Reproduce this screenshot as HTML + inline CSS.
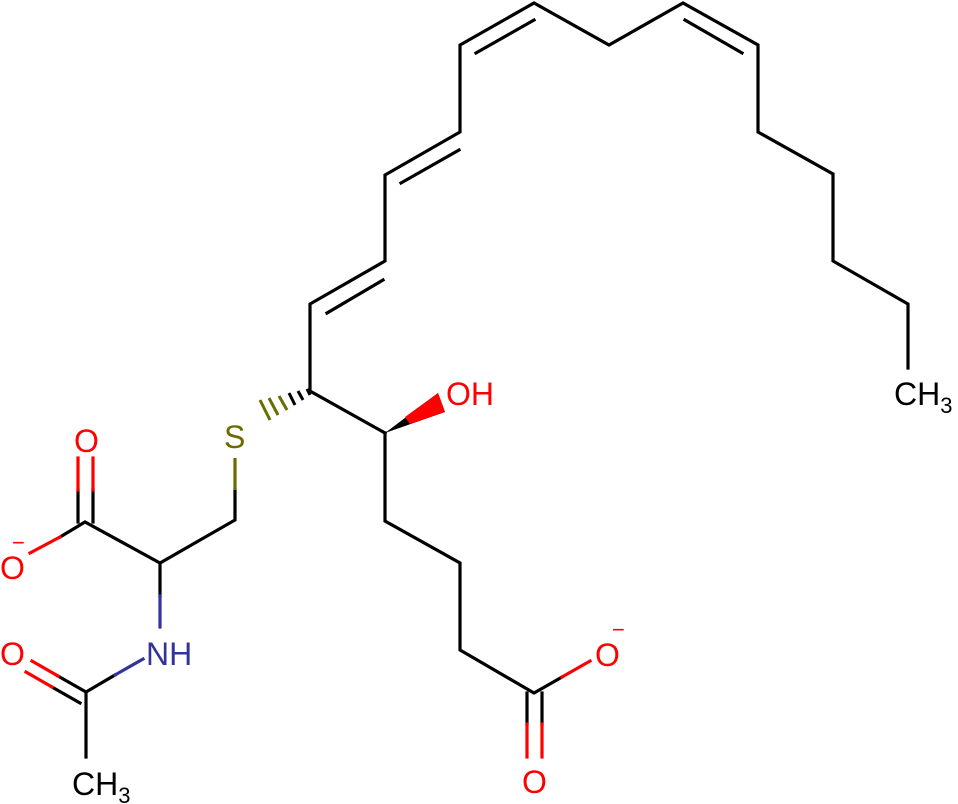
<!DOCTYPE html>
<html><head><style>body{margin:0;background:#fff}svg{display:block}text{font-family:"Liberation Sans",sans-serif;font-size:32px}</style></head><body>
<svg width="958" height="804" viewBox="0 0 958 804" xmlns="http://www.w3.org/2000/svg">
<g stroke="#000" stroke-width="3.2" fill="none" stroke-linecap="square">
<polyline points="385,433 310,391 310,304 385,261 385,175 460,132 460,45 534,3 609,45 683,3 758,45 758,132 833,174 833,261 908,304 908,368"/>
<line x1="327" y1="313" x2="383" y2="280"/>
<line x1="401" y1="183" x2="459" y2="150"/>
<line x1="476" y1="53" x2="534" y2="20"/>
<line x1="685" y1="20" x2="742" y2="53"/>
<polyline points="385,433 385,521 460,563 460,650 534,693 562,677"/>
<line x1="527" y1="693" x2="527" y2="724"/><line x1="542" y1="693" x2="542" y2="724"/>
<polyline points="235,490 235,520 160,563 85,522 60,537"/>
<line x1="78" y1="522" x2="78" y2="490"/><line x1="93" y1="522" x2="93" y2="490"/>
<line x1="160" y1="563" x2="160" y2="596"/>
<polyline points="115,675 86,692 86,757"/>
<line x1="86" y1="692" x2="58" y2="676"/><line x1="80" y1="703" x2="52" y2="687"/>
</g>
<g stroke="red" stroke-width="3.2" stroke-linecap="square">
<line x1="562" y1="677" x2="590" y2="661"/>
<line x1="527" y1="724" x2="527" y2="757"/><line x1="542" y1="724" x2="542" y2="757"/>
<line x1="78" y1="490" x2="78" y2="458"/><line x1="93" y1="490" x2="93" y2="458"/>
<line x1="60" y1="537" x2="30" y2="553"/>
<line x1="58" y1="676" x2="32" y2="661"/><line x1="52" y1="687" x2="26" y2="672"/>
</g>
<g stroke="#333399" stroke-width="3.2" stroke-linecap="square">
<line x1="160" y1="596" x2="160" y2="627"/><line x1="115" y1="675" x2="143" y2="659"/>
</g>
<line x1="235" y1="490" x2="235" y2="458" stroke="#6b6b00" stroke-width="3.2"/>
<g stroke="#000" stroke-width="3">
<line x1="307" y1="389" x2="310" y2="395"/><line x1="298" y1="391" x2="303" y2="400"/><line x1="289" y1="393" x2="295" y2="405"/>
</g>
<g stroke="#6b6b00" stroke-width="3">
<line x1="279" y1="396" x2="287" y2="410"/><line x1="269" y1="398" x2="278" y2="415"/><line x1="260" y1="400" x2="270" y2="420"/>
</g>
<polygon points="385,433 445,412 438,393" fill="#000"/>
<polygon points="410,424 445,412 438,393 405,417" fill="red"/>
<text x="446" y="405" fill="red">OH</text>
<text x="894" y="405" fill="#000">CH<tspan style="font-size:22px" dy="8">3</tspan></text>
<text x="224" y="448" fill="#6b6b00">S</text>
<text x="74" y="452" fill="red">O</text>
<text x="0" y="579" fill="red">O</text>
<text x="12" y="550" fill="red" style="font-size:22px">−</text>
<text x="146" y="665" fill="#333399">NH</text>
<text x="0" y="665" fill="red">O</text>
<text x="72" y="795" fill="#000">CH<tspan style="font-size:22px" dy="8">3</tspan></text>
<text x="595" y="666" fill="red">O</text>
<text x="612" y="637" fill="red" style="font-size:22px">−</text>
<text x="522" y="793" fill="red">O</text>
</svg>
</body></html>
